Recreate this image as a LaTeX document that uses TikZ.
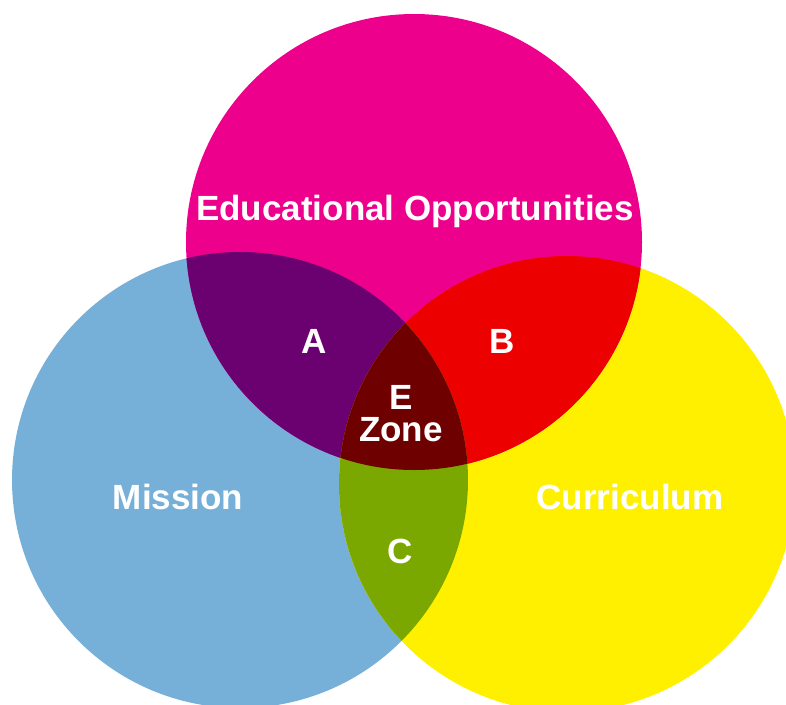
\documentclass[tikz,border=0pt]{standalone}
\usepackage{fontspec}
\setmainfont{Liberation Sans}
\usepackage{tikz}

\definecolor{eduPink}{HTML}{EC008C}
\definecolor{misBlue}{HTML}{76B0D8}
\definecolor{curYellow}{HTML}{FFF000}
\definecolor{zoneA}{HTML}{6B0070}
\definecolor{zoneB}{HTML}{EC0000}
\definecolor{zoneC}{HTML}{7BA800}
\definecolor{zoneE}{HTML}{6E0000}

\begin{document}
\begin{tikzpicture}[x=1pt,y=-1pt,
		lbl/.style={text=white,anchor=base,inner sep=0pt,font=\fontsize{35}{40}\selectfont\bfseries}]
			
			\useasboundingbox (0,0) rectangle (786,704);
			
			\coordinate (edu) at (414,242);
			\coordinate (mis) at (240,480);
			\coordinate (cur) at (567,484);
			
			% the three circles
			\fill[misBlue]   (mis) circle (228pt);
			\fill[curYellow] (cur) circle (228pt);
			\fill[eduPink]   (edu) circle (228pt);
			
			% overlaps
			\begin{scope}
				\clip (edu) circle (228pt);
				\fill[zoneA] (mis) circle (228pt);
				\fill[zoneB] (cur) circle (228pt);
			\end{scope}
			\begin{scope}
				\clip (mis) circle (228pt);
				\fill[zoneC] (cur) circle (228pt);
			\end{scope}
			\begin{scope}
				\clip (edu) circle (228pt);
				\clip (mis) circle (228pt);
				\fill[zoneE] (cur) circle (228pt);
			\end{scope}
			
			\node[lbl] (EO) at (415,220) {Educational Opportunities};
			\node[lbl] (M)  at (178,509) {Mission};
			\node[lbl] (Cu) at (630,509) {Curriculum};
			\node[lbl] (A)  at (314,353) {A};
			\node[lbl] (B)  at (502,353) {B};
			\node[lbl] (C)  at (400,563) {C};
			\node[lbl] (E)  at (401,409) {E};
			\node[lbl] (Z)  at (401,441) {Zone};
		\end{tikzpicture}
\end{document}
